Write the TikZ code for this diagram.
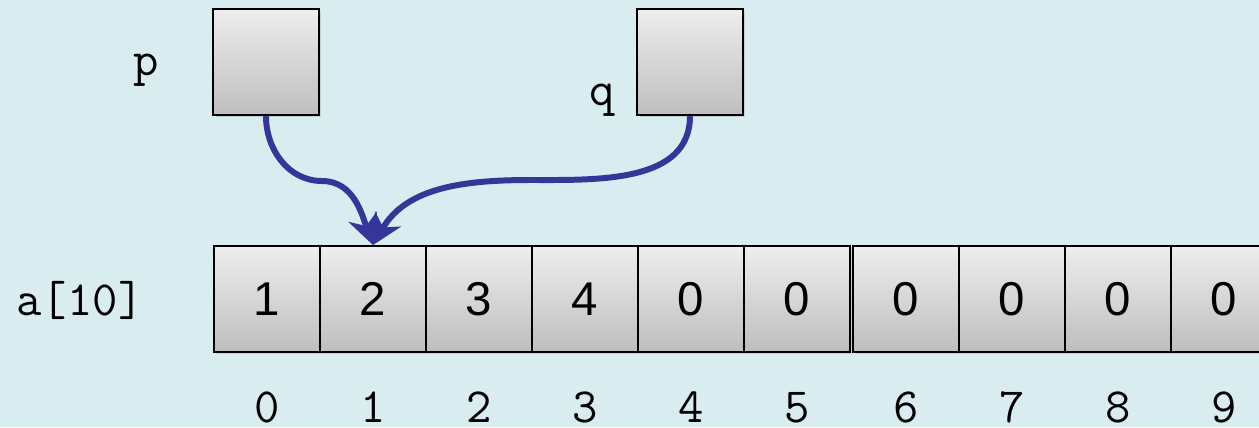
\documentclass[tikz,border=0pt]{standalone}
\usepackage{fontspec}
\setmainfont{Liberation Sans}
\usepackage{xcolor}
\usepackage{tikz}
\usetikzlibrary{arrows.meta,shadows,positioning}
\definecolor{bgblue}{HTML}{D9ECEF}
\definecolor{celltop}{HTML}{EEEEEE}
\definecolor{cellbot}{HTML}{BEBEBE}
\definecolor{ptrblue}{HTML}{35359A}

\begin{document}
\begin{tikzpicture}[x=0.02cm, y=0.02cm,
    cell/.style={draw, line width=1.1pt, minimum size=2.12cm, inner sep=0pt,
        top color=celltop, bottom color=cellbot, font=\fontsize{27}{30}\selectfont,
        drop shadow={opacity=0.25, shadow xshift=0.05cm, shadow yshift=-0.05cm}},
    code/.style={font=\ttfamily\fontsize{28}{32}\selectfont, inner sep=0pt},
    ptr/.style={draw=ptrblue, line width=3.4pt, -{Stealth[length=0.6cm, width=0.6cm]}}]
    \fill[bgblue] (0,0) rectangle (1259,-427);
    \useasboundingbox (0,0) rectangle (1259,-427);
    % pointers
    \node[cell] (p) at (266,-62) {};
    \node[cell] (q) at (690,-62) {};
    \node[code, anchor=base] (plabel) at (146,-75) {p};
    \node[code, anchor=base] (qlabel) at (602,-105) {q};
    % array
    \foreach \v [count=\i from 0] in {1,2,3,4,0,0,0,0,0,0}
        \node[cell] (c\i) at ({267+106*\i+3*(\i>5)},-299) {\v};
    \foreach \i in {0,...,9}
        \path (c\i.center) ++(0,-123) node[code, anchor=base] (n\i) {\i};
    \node[code, anchor=base] (alabel) at (80,-315) {a[10]};
    % arrows
    \coordinate (pbend) at (322,-181);
    \coordinate (qbend) at (531,-180);
    \draw[ptr] (p.south) to[out=-90, in=180] (pbend) to[out=0, in=110] (c1.north);
    \draw[ptr] (q.south) to[out=-90, in=0] (qbend) to[out=180, in=60] (c1.north);
\end{tikzpicture}
\end{document}
